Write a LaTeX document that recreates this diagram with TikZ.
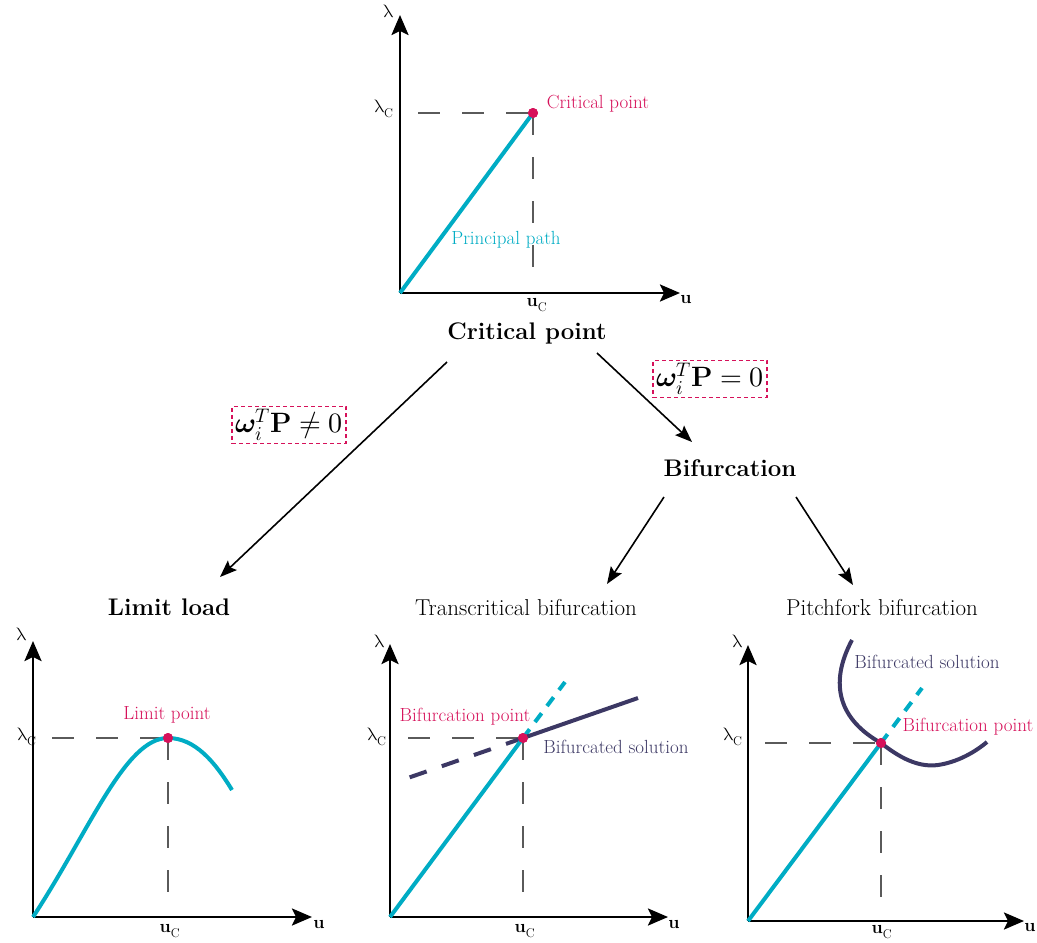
\documentclass[tikz,border=0pt]{standalone}
\usepackage{amsmath}
\usepackage{fontspec}
\usepackage{unicode-math}
\setmathfont{Latin Modern Math}
\usetikzlibrary{arrows.meta,calc}
\definecolor{cy}{RGB}{0,172,196}
\definecolor{pk}{RGB}{214,17,90}
\definecolor{dk}{RGB}{60,56,100}
\definecolor{gr}{RGB}{90,90,90}
\newcommand{\lamC}{\ensuremath{\uplambda_{\mathrm{C}}}}
\newcommand{\uC}{\ensuremath{\mathbf{u}_{\mathrm{C}}}}
\begin{document}
\begin{tikzpicture}[x=1pt,y=-1pt,
  axis/.style={line width=2.6pt,-{Stealth[length=20pt,width=17pt,inset=4pt]}},
  guide/.style={gr,line width=1.8pt,dash pattern=on 22pt off 22pt},
  prin/.style={cy,line width=4pt},
  prindash/.style={cy,line width=4pt,dash pattern=on 11pt off 9pt},
  bifsol/.style={dk,line width=4pt},
  bifdash/.style={dk,line width=4pt,dash pattern=on 18pt off 16pt},
  dot/.style={circle,fill=pk,inner sep=0pt,minimum size=10pt},
  lbl/.style={inner sep=0pt,font=\fontsize{18}{21}\selectfont},
  pklbl/.style={inner sep=0pt,text=pk,font=\fontsize{19}{22}\selectfont},
  cylbl/.style={inner sep=0pt,text=cy,font=\fontsize{19}{22}\selectfont},
  dklbl/.style={inner sep=0pt,text=dk,font=\fontsize{19}{22}\selectfont},
  ttl/.style={inner sep=0pt,font=\fontsize{24}{28}\selectfont\bfseries},
  subttl/.style={inner sep=0pt,font=\fontsize{23}{27}\selectfont},
  cond/.style={draw=pk,line width=1.5pt,dash pattern=on 4pt off 3pt,inner sep=3pt,font=\fontsize{28}{33}\selectfont},
  flow/.style={line width=1.6pt,-{Stealth[length=17pt,width=13pt,inset=3pt]}}
]
\useasboundingbox (0,0) rectangle (1037,943);

% ---------- top plot ----------
\coordinate (O1) at (400,293);
\coordinate (Y1) at (400,15);
\coordinate (X1) at (680,293);
\draw[axis] (O1) -- (Y1);
\draw[axis] (O1) -- (X1);
\node[dot] (cp) at (533,113) {};
\coordinate (g1h) at (418,113);
\coordinate (g1v) at (533,278);
\draw[guide] (g1h) -- (cp.center);
\draw[guide] (cp.center) -- (g1v);
\draw[prin] (O1) -- (cp.center);
\node[dot] at (cp) {};
\node[lbl] (lam1) at (389,11) {$\uplambda$};
\node[lbl] (u1) at (686,299) {$\mathbf{u}$};
\node[lbl] (lc1) at (384,109) {\lamC};
\node[lbl] (uc1) at (537,305) {\uC};
\node[pklbl] (cpl) at (598,104) {Critical point};
\node[cylbl] (ppl) at (506,240) {Principal path};

% ---------- flow ----------
\node[ttl] (crit) at (527,333) {Critical point};
\node[ttl] (bif) at (730,468) {Bifurcation};
\node[ttl] (lim) at (169,607) {Limit load};
\node[subttl] (trans) at (526,608) {Transcritical bifurcation};
\node[subttl] (pitch) at (882,608) {Pitchfork bifurcation};
\node[cond] (cne) at (289,425) {$\symbfit{\omega}_i^T\mathbf{P}\neq 0$};
\node[cond] (ceq) at (710,379) {$\symbfit{\omega}_i^T\mathbf{P}=0$};

\coordinate (a1s) at (447,362);
\coordinate (a1e) at (220,577);
\coordinate (a2s) at (597,353);
\coordinate (a2e) at (692,442);
\coordinate (a3s) at (664,497);
\coordinate (a3e) at (607,584);
\coordinate (a4s) at (796,497);
\coordinate (a4e) at (853,585);
\draw[flow] (a1s) -- (a1e);
\draw[flow] (a2s) -- (a2e);
\draw[flow] (a3s) -- (a3e);
\draw[flow] (a4s) -- (a4e);

% ---------- limit load plot ----------
\coordinate (O2) at (33,917);
\coordinate (Y2) at (33,641);
\coordinate (X2) at (312,917);
\draw[axis] (O2) -- (Y2);
\draw[axis] (O2) -- (X2);
\node[dot] (lp) at (168,738) {};
\coordinate (g2h) at (52,738);
\coordinate (g2v) at (168,902);
\draw[guide] (g2h) -- (lp.center);
\draw[guide] (lp.center) -- (g2v);
\coordinate (e2) at (232,790);
\draw[prin] (O2) .. controls (90,830) and (125,738) .. (lp.center)
                 .. controls (195,738) and (215,762) .. (e2);
\node[dot] at (lp) {};
\node[lbl] (lam2) at (22,634) {$\uplambda$};
\node[lbl] (u2) at (319,924) {$\mathbf{u}$};
\node[lbl] (lc2) at (27,737) {\lamC};
\node[lbl] (uc2) at (170,931) {\uC};
\node[pklbl] (lpl) at (167,715) {Limit point};

% ---------- transcritical plot ----------
\coordinate (O3) at (390,917);
\coordinate (Y3) at (390,644);
\coordinate (X3) at (668,917);
\draw[axis] (O3) -- (Y3);
\draw[axis] (O3) -- (X3);
\node[dot] (tp) at (523,738) {};
\coordinate (g3h) at (408,738);
\coordinate (g3v) at (523,902);
\draw[guide] (g3h) -- (tp.center);
\draw[guide] (tp.center) -- (g3v);
\coordinate (t3a) at (565,682);
\coordinate (t3b) at (638,698);
\coordinate (t3c) at (402,780);
\draw[bifdash] (tp.center) -- (t3c);
\draw[prindash] (tp.center) -- (t3a);
\draw[prin] (O3) -- (tp.center);
\draw[bifsol] (tp.center) -- (t3b);
\node[dot] at (tp) {};
\node[lbl] (lam3) at (380,641) {$\uplambda$};
\node[lbl] (u3) at (674,924) {$\mathbf{u}$};
\node[lbl] (lc3) at (377,737) {\lamC};
\node[lbl] (uc3) at (525,931) {\uC};
\node[pklbl] (tpl) at (465,717) {Bifurcation point};
\node[dklbl] (tsl) at (616,747) {Bifurcated solution};

% ---------- pitchfork plot ----------
\coordinate (O4) at (748,921);
\coordinate (Y4) at (748,645);
\coordinate (X4) at (1024,921);
\draw[axis] (O4) -- (Y4);
\draw[axis] (O4) -- (X4);
\node[dot] (pp) at (881,743) {};
\coordinate (g4h) at (765,743);
\coordinate (g4v) at (881,905);
\draw[guide] (g4h) -- (pp.center);
\draw[guide] (pp.center) -- (g4v);
\coordinate (p4a) at (922,688);
\coordinate (p4s) at (852,640);
\coordinate (p4e) at (987,742);
\draw[prindash] (pp.center) -- (p4a);
\draw[prin] (O4) -- (pp.center);
\draw[bifsol] (p4s) .. controls (828,685) and (840,720) .. (pp.center)
                  .. controls (905,762) and (922,767) .. (938,765)
                  .. controls (958,762) and (975,752) .. (p4e);
\node[dot] at (pp) {};
\node[lbl] (lam4) at (738,641) {$\uplambda$};
\node[lbl] (u4) at (1030,927) {$\mathbf{u}$};
\node[lbl] (lc4) at (733,737) {\lamC};
\node[lbl] (uc4) at (882,932) {\uC};
\node[dklbl] (psl) at (927,662) {Bifurcated solution};
\node[pklbl] (ppl) at (968,727) {Bifurcation point};
\end{tikzpicture}
\end{document}
